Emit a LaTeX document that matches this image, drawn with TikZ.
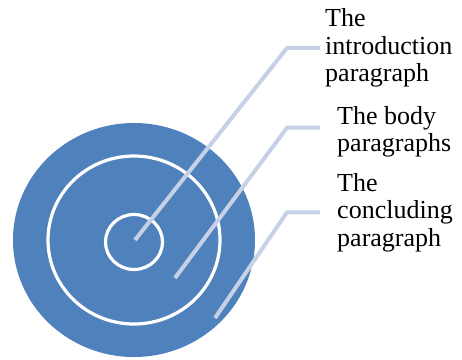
\documentclass[tikz,border=0pt]{standalone}
\usepackage{fontspec}
\setmainfont{Liberation Serif}
\definecolor{targetblue}{HTML}{4F81BD}
\definecolor{leadgrey}{HTML}{C6D1E5}
\begin{document}
\begin{tikzpicture}[x=1pt,y=-1pt,
  ring/.style={draw=white,line width=3.2pt},
  lead/.style={draw=leadgrey,line width=4pt},
  label/.style={align=left,inner sep=5pt,anchor=base west,
    font=\fontsize{26}{27.5}\selectfont}]
  \useasboundingbox (0,0) rectangle (462,359);
  % target: filled disc with two white rings
  \fill[targetblue] (134,240) ellipse [x radius=121,y radius=117];
  \draw[ring] (134,240) ellipse [x radius=86,y radius=84];
  \draw[ring] (134,242) ellipse [x radius=28.5,y radius=27.5];
  % labels (anchored at the baseline of their last line)
  \node[label] (l1) at (320,81.7) {The\\introduction\\paragraph};
  \node[label] (l2) at (332,151.7) {The body\\paragraphs};
  \node[label] (l3) at (332,246) {The\\concluding\\paragraph};
  % points inside the target
  \coordinate (p1) at (135,240);
  \coordinate (p2) at (175,278);
  \coordinate (p3) at (215,318);
  % leader lines: slanted run, then a short level run into the label
  \draw[lead] (p1) -- ([xshift=-33pt]l1.west) -- (l1.west);
  \draw[lead] (p2) -- ([xshift=-45pt,yshift=4pt]l2.west) -- ([xshift=-12pt,yshift=4pt]l2.west);
  \draw[lead] (p3) -- ([xshift=-45pt]l3.west) -- ([xshift=-12pt]l3.west);
\end{tikzpicture}
\end{document}
